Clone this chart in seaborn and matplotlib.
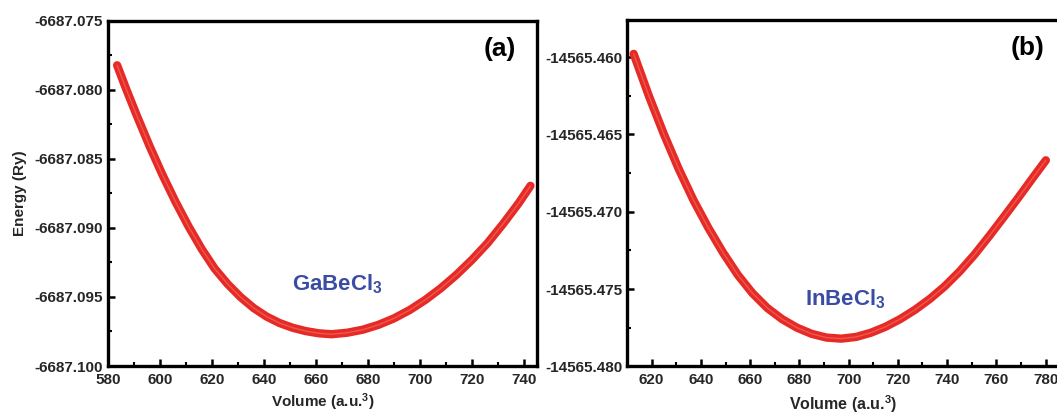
import matplotlib
matplotlib.use("Agg")
import matplotlib.pyplot as plt
from matplotlib.ticker import MultipleLocator, FormatStrFormatter
import seaborn as sns

# ---------------- data ----------------
vol_a = [583.5, 587.0, 591.0, 596.0, 601.0, 606.0, 611.0, 616.0, 621.0, 626.0,
         631.0, 636.0, 641.0, 646.0, 651.0, 656.0, 661.0, 666.0, 672.0, 678.0,
         684.0, 690.0, 696.0, 702.0, 708.0, 714.0, 720.0, 726.0, 732.0, 738.0,
         742.5]
energy_a = [-6687.07822, -6687.07995, -6687.08183, -6687.08408, -6687.08618,
            -6687.08812, -6687.08990, -6687.09152, -6687.09294, -6687.09406,
            -6687.09501, -6687.09580, -6687.09642, -6687.09689, -6687.09723,
            -6687.09747, -6687.09763, -6687.09770, -6687.09759, -6687.09737,
            -6687.09702, -6687.09655, -6687.09595, -6687.09522, -6687.09437,
            -6687.09340, -6687.09231, -6687.09110, -6687.08970, -6687.08820,
            -6687.08695]

vol_b = [612.7, 619.0, 625.0, 631.0, 637.0, 643.0, 649.0, 655.0, 661.0, 667.0,
         673.0, 679.0, 685.0, 691.0, 697.0, 703.0, 709.0, 715.0, 721.0, 727.0,
         733.0, 739.0, 745.0, 751.0, 757.0, 763.0, 769.0, 775.0, 780.1]
energy_b = [-14565.45979, -14565.46256, -14565.46499, -14565.46723, -14565.46925,
            -14565.47103, -14565.47264, -14565.47408, -14565.47527, -14565.47622,
            -14565.47694, -14565.47749, -14565.47789, -14565.47813, -14565.47820,
            -14565.47809, -14565.47782, -14565.47743, -14565.47693, -14565.47633,
            -14565.47563, -14565.47482, -14565.47387, -14565.47279, -14565.47159,
            -14565.47034, -14565.46907, -14565.46776, -14565.46667]

xticks_a = [580, 600, 620, 640, 660, 680, 700, 720, 740]
yticks_a = [-6687.100, -6687.095, -6687.090, -6687.085, -6687.080, -6687.075]
xticks_b = [620, 640, 660, 680, 700, 720, 740, 760, 780]
yticks_b = [-14565.480, -14565.475, -14565.470, -14565.465, -14565.460]

label_a = "GaBeCl$_3$"
label_b = "InBeCl$_3$"
panel_a = "(a)"
panel_b = "(b)"
xlabel = "Volume (a.u.$^3$)"
ylabel = "Energy (Ry)"

# ---------------- style ----------------
sns.set_theme(style="ticks")
plt.rcParams["font.family"] = ["Liberation Sans", "DejaVu Sans"]
plt.rcParams["font.weight"] = "bold"
plt.rcParams["axes.unicode_minus"] = False
plt.rcParams["mathtext.fontset"] = "custom"
plt.rcParams["mathtext.rm"] = "Liberation Sans:bold"
plt.rcParams["mathtext.bf"] = "Liberation Sans:bold"
plt.rcParams["mathtext.default"] = "bf"

RED = "#e62a25"
BLUE = "#3b4ca3"
FS = 11

fig = plt.figure(figsize=(10.57, 4.13), dpi=100)
ax1 = fig.add_axes([0.1022, 0.1138, 0.4058, 0.8358])
ax2 = fig.add_axes([0.5932, 0.1126, 0.4100, 0.8390])

for ax, v, e in ((ax1, vol_a, energy_a), (ax2, vol_b, energy_b)):
    sns.lineplot(x=v, y=e, ax=ax, color=RED, linewidth=6.0,
                 solid_capstyle="round", solid_joinstyle="round", sort=True)
    # lighter inner texture of the overlapping open circles
    sns.lineplot(x=v, y=e, ax=ax, color="#f3847e", linewidth=1.0,
                 alpha=0.5, sort=True, solid_joinstyle="round")

ax1.set_xlim(580, 745)
ax1.set_ylim(-6687.100, -6687.075)
ax2.set_xlim(610, 786)
ax2.set_ylim(-14565.480, -14565.4576)

for ax, xt, yt in ((ax1, xticks_a, yticks_a), (ax2, xticks_b, yticks_b)):
    ax.set_xticks(xt)
    ax.set_yticks(yt)
    ax.xaxis.set_minor_locator(MultipleLocator(10))
    ax.yaxis.set_minor_locator(MultipleLocator(0.0025))
    ax.yaxis.set_major_formatter(FormatStrFormatter("%.3f"))
    ax.xaxis.set_major_formatter(FormatStrFormatter("%d"))
    ax.tick_params(axis="both", which="major", direction="in", length=5,
                   width=1.8, labelsize=FS, color="black")
    ax.tick_params(axis="both", which="minor", direction="in", length=3.2,
                   width=1.5, color="black")
    ax.tick_params(axis="x", which="major", pad=5)
    ax.tick_params(axis="y", which="major", pad=3.5)
    ax.tick_params(top=False, right=False, which="both")
    for lab in ax.get_xticklabels() + ax.get_yticklabels():
        lab.set_fontweight("bold")
    for sp in ax.spines.values():
        sp.set_linewidth(2.4)
        sp.set_color("black")
        sp.set_visible(True)
    ax.grid(False)

ax1.set_xlabel(xlabel, fontsize=FS, fontweight="bold", labelpad=3)
ax2.set_xlabel(xlabel, fontsize=FS + 0.5, fontweight="bold", labelpad=4)

ax1.set_ylabel(ylabel, fontsize=FS, fontweight="bold")
ax1.yaxis.set_label_coords(-0.188, 0.5)
ax2.set_ylabel("")

ax1.text(668.3, -6687.09455, label_a, color=BLUE, fontsize=16, fontweight="bold",
         ha="center", va="baseline")
ax2.text(698.6, -14565.47603, label_b, color=BLUE, fontsize=16, fontweight="bold",
         ha="center", va="baseline")

ax1.text(0.914, 0.918, panel_a, transform=ax1.transAxes, fontsize=19,
         fontweight="bold", ha="center", va="center", color="black")
ax2.text(772.6, -14565.45938, panel_b, fontsize=19, fontweight="bold",
         ha="center", va="center", color="black")

fig.savefig("out.png", dpi=100)
